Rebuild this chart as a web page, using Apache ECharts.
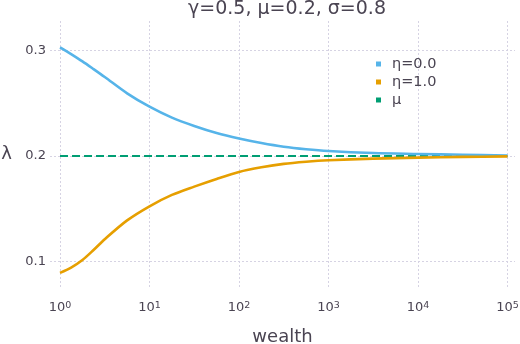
<!DOCTYPE html>
<html>
<head>
<meta charset="utf-8">
<script src="https://cdn.jsdelivr.net/npm/echarts@6/dist/echarts.min.js"></script>
<style>
html,body{margin:0;padding:0;background:#fff;overflow:hidden;}
#chart{width:520px;height:344px;}
</style>
</head>
<body>
<div id="chart"></div>
<script>
const titleText = 'γ=0.5, μ=0.2, σ=0.8';
const wealth = [1, 1.33, 1.78, 2.37, 3.16, 5.62, 10, 17.8, 31.6, 56.2, 100, 178, 316, 562, 1000, 3162, 10000, 31623, 100000];
const lambdaEta0 = [0.3032, 0.2967, 0.2898, 0.2825, 0.2750, 0.2595, 0.2468, 0.2364, 0.2285, 0.2218, 0.2166, 0.2123, 0.2088, 0.2064, 0.2047, 0.2028, 0.2019, 0.2011, 0.2004];
const lambdaEta1 = [0.0890, 0.0940, 0.1012, 0.1107, 0.1209, 0.1388, 0.1522, 0.1630, 0.1709, 0.1782, 0.1848, 0.1892, 0.1925, 0.1945, 0.1959, 0.1975, 0.1984, 0.1991, 0.1996];
const muLevel = 0.2;
const muRange = [1, 100000];
const seriesNames = ['η=0.0', 'η=1.0', 'μ'];
const xName = 'wealth';
const yName = 'λ';

const textColor = '#4a4452';
const gridColor = '#d6d3e3';
const colors = ['#56B4E9', '#E69F00', '#009E73'];

const chart = echarts.init(document.getElementById('chart'), null, {renderer: 'canvas', width: 520, height: 344});
const pairs = (xs, ys) => xs.map((x, i) => [x, ys[i]]);

chart.setOption({
  animation: false,
  backgroundColor: '#ffffff',
  title: {
    text: titleText,
    left: 282,
    textAlign: 'center',
    top: -5,
    textStyle: {fontFamily: 'DejaVu Sans', fontSize: 19, fontWeight: 'normal', color: textColor}
  },
  grid: {left: 50, right: 5, top: 21, bottom: 56, containLabel: false, outerBoundsMode: 'none'},
  legend: {
    orient: 'vertical',
    left: 376,
    top: 55,
    padding: 0,
    itemGap: 0,
    itemWidth: 5,
    itemHeight: 5,
    icon: 'rect',
    data: seriesNames,
    textStyle: {fontFamily: 'DejaVu Sans', fontSize: 14.5, color: textColor, lineHeight: 18, padding: [0, 0, 0, 6]}
  },
  xAxis: {
    type: 'log',
    logBase: 10,
    min: Math.pow(10, -0.112),
    max: Math.pow(10, 5.084),
    splitNumber: 5,
    name: xName,
    nameLocation: 'middle',
    nameGap: 40,
    nameTextStyle: {fontFamily: 'DejaVu Sans', fontSize: 18, color: textColor},
    axisLine: {show: false},
    axisTick: {show: false},
    splitLine: {show: true, showMinLine: false, showMaxLine: false, lineStyle: {color: gridColor, type: [2, 2], width: 1}},
    axisLabel: {
      showMinLabel: false,
      showMaxLabel: false,
      margin: 13,
      formatter: function (v) {
        const e = Math.round(Math.log10(v));
        return '{b|10}{s|' + e + '}';
      },
      rich: {
        b: {fontFamily: 'DejaVu Sans', fontSize: 13, color: textColor, lineHeight: 13, verticalAlign: 'bottom'},
        s: {fontFamily: 'DejaVu Sans', fontSize: 9.5, color: textColor, lineHeight: 10, verticalAlign: 'top', padding: [0, 0, 10, 0]}
      }
    }
  },
  yAxis: {
    type: 'value',
    min: 0.0746,
    max: 0.3282,
    splitNumber: 2,
    name: yName,
    nameLocation: 'middle',
    nameRotate: 0,
    nameGap: 38,
    nameTextStyle: {fontFamily: 'DejaVu Sans', fontSize: 18, color: textColor},
    axisLine: {show: false},
    axisTick: {show: false},
    splitLine: {show: true, showMinLine: false, showMaxLine: false, lineStyle: {color: gridColor, type: [2, 2], width: 1}},
    axisLabel: {
      showMinLabel: false,
      showMaxLabel: false,
      margin: 4,
      fontFamily: 'DejaVu Sans',
      fontSize: 13,
      color: textColor,
      formatter: function (v) { return (Math.round(v * 10) / 10).toFixed(1); }
    }
  },
  series: [
    {
      name: seriesNames[0], type: 'line', showSymbol: false, smooth: 0.3,
      data: pairs(wealth, lambdaEta0),
      lineStyle: {color: colors[0], width: 2.6}, itemStyle: {color: colors[0]}, z: 3
    },
    {
      name: seriesNames[1], type: 'line', showSymbol: false, smooth: 0.3,
      data: pairs(wealth, lambdaEta1),
      lineStyle: {color: colors[1], width: 2.6}, itemStyle: {color: colors[1]}, z: 4
    },
    {
      name: seriesNames[2], type: 'line', showSymbol: false,
      data: muRange.map(x => [x, muLevel]),
      lineStyle: {color: colors[2], width: 2, type: [8, 4]}, itemStyle: {color: colors[2]}, z: 2
    }
  ]
});
</script>
</body>
</html>
